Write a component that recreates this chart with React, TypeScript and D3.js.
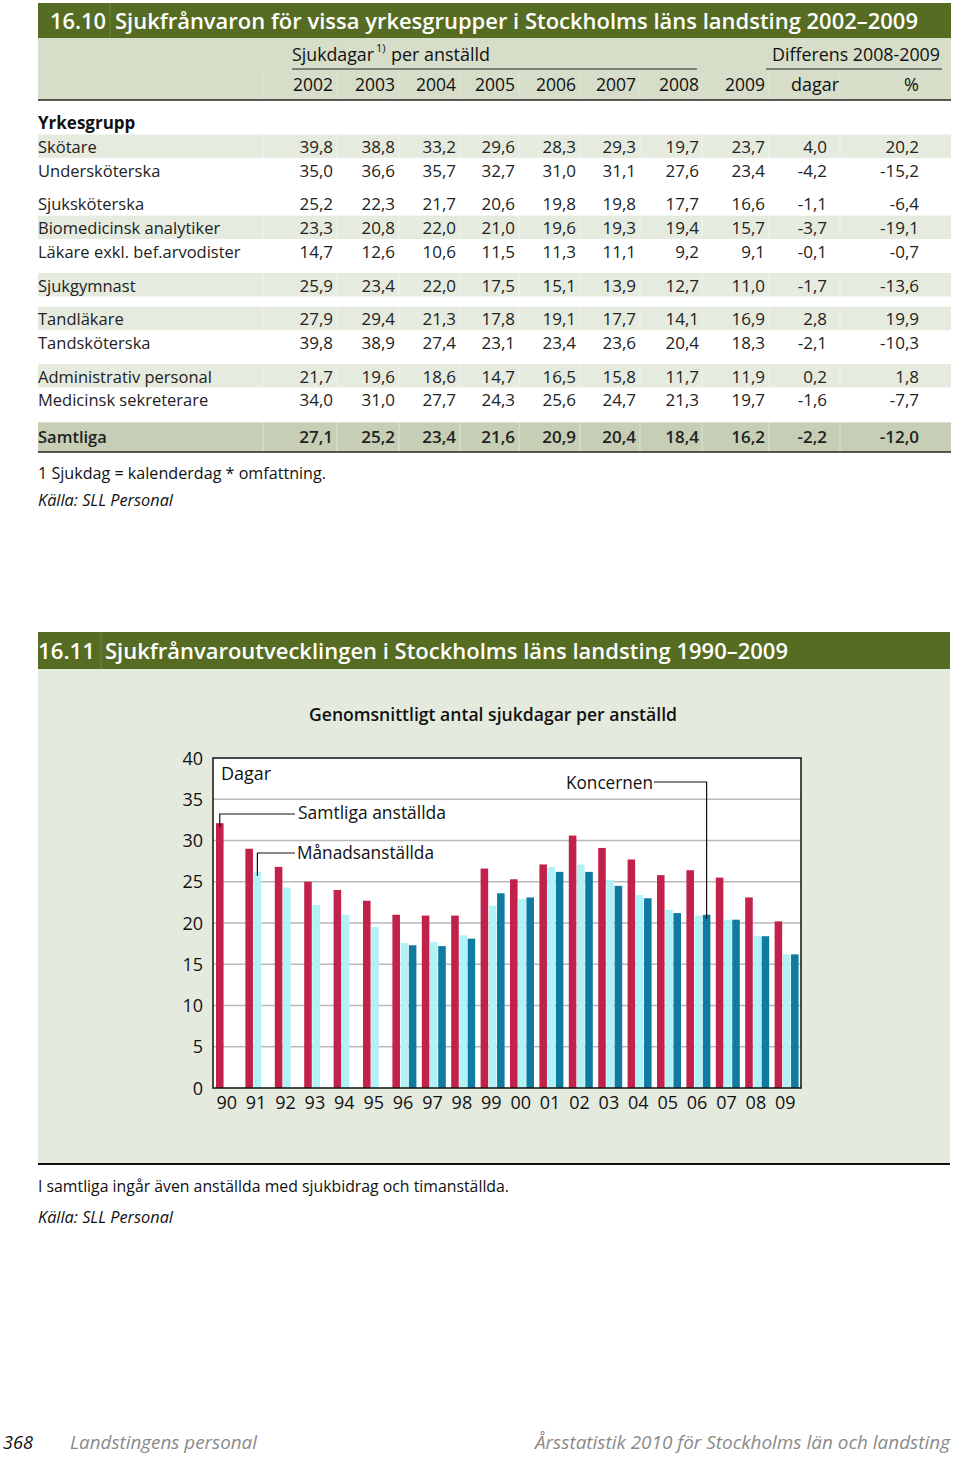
import React from 'react';
import * as d3 from 'd3';

// ---------- Table 16.10 data ----------
const tableYears = ['2002', '2003', '2004', '2005', '2006', '2007', '2008', '2009'];
const diffHeaders = ['dagar', '%'];
const occupations = [
  'Skötare',
  'Undersköterska',
  'Sjuksköterska',
  'Biomedicinsk analytiker',
  'Läkare exkl. bef.arvodister',
  'Sjukgymnast',
  'Tandläkare',
  'Tandsköterska',
  'Administrativ personal',
  'Medicinsk sekreterare',
  'Samtliga',
];
const occupationGroup = [0, 0, 1, 1, 1, 2, 3, 3, 4, 4, 5];
const stripedRows = [0, 3, 5, 6, 8];
const tableValues = [
  [39.8, 38.8, 33.2, 29.6, 28.3, 29.3, 19.7, 23.7, 4.0, 20.2],
  [35.0, 36.6, 35.7, 32.7, 31.0, 31.1, 27.6, 23.4, -4.2, -15.2],
  [25.2, 22.3, 21.7, 20.6, 19.8, 19.8, 17.7, 16.6, -1.1, -6.4],
  [23.3, 20.8, 22.0, 21.0, 19.6, 19.3, 19.4, 15.7, -3.7, -19.1],
  [14.7, 12.6, 10.6, 11.5, 11.3, 11.1, 9.2, 9.1, -0.1, -0.7],
  [25.9, 23.4, 22.0, 17.5, 15.1, 13.9, 12.7, 11.0, -1.7, -13.6],
  [27.9, 29.4, 21.3, 17.8, 19.1, 17.7, 14.1, 16.9, 2.8, 19.9],
  [39.8, 38.9, 27.4, 23.1, 23.4, 23.6, 20.4, 18.3, -2.1, -10.3],
  [21.7, 19.6, 18.6, 14.7, 16.5, 15.8, 11.7, 11.9, 0.2, 1.8],
  [34.0, 31.0, 27.7, 24.3, 25.6, 24.7, 21.3, 19.7, -1.6, -7.7],
  [27.1, 25.2, 23.4, 21.6, 20.9, 20.4, 18.4, 16.2, -2.2, -12.0],
];

// ---------- Chart 16.11 data ----------
const chartYears = ['90', '91', '92', '93', '94', '95', '96', '97', '98', '99',
  '00', '01', '02', '03', '04', '05', '06', '07', '08', '09'];
const seriesKeys = ['samtliga', 'manads', 'koncernen'];
const samtligaAnstallda = [32.1, 29.0, 26.8, 25.0, 24.0, 22.7, 21.0, 20.9, 20.9, 26.6,
  25.3, 27.1, 30.6, 29.1, 27.7, 25.8, 26.4, 25.5, 23.1, 20.2];
const manadsanstallda = [null, 26.2, 24.3, 22.2, 21.0, 19.5, 17.6, 17.7, 18.5, 22.1,
  22.9, 26.8, 27.1, 25.2, 23.4, 21.6, 20.9, 20.4, 18.4, 16.2];
const koncernen = [null, null, null, null, null, null, 17.3, 17.2, 18.1, 23.6,
  23.1, 26.2, 26.2, 24.5, 23.0, 21.2, 21.0, 20.4, 18.4, 16.2];
const yTicks = [0, 5, 10, 15, 20, 25, 30, 35, 40];

const FONT = '"Open Sans", "Noto Sans", sans-serif';
const C = {
  titleBar: '#566c22',
  header: '#d6ddc8',
  stripe: '#e6ebdf',
  total: '#c6ceb6',
  panel: '#e5eadf',
  red: '#c1214a',
  light: '#b0f2f5',
  dark: '#0f7ba0',
  grid: '#b9b9b9',
};

const fmt = d3
  .formatLocale({ decimal: ',', thousands: ' ', grouping: [3], currency: ['', ''], minus: '-' })
  .format('.1f');

export default function App() {
  // ---- table layout ----
  const colRight = [333, 395, 456, 515, 576, 636, 699, 765, 827, 919];
  const rowCenter = (i: number) =>
    147 + i * 23.7 + occupationGroup[i] * 10 + (i === occupations.length - 1 ? 2.7 : 0);
  const sepX = [263, 337, 399, 460, 519, 580, 640, 702, 769, 840];

  // ---- chart layout ----
  const plot = { left: 213, right: 801, top: 758, bottom: 1088 };
  const x0 = d3.scaleBand<string>().domain(chartYears).range([plot.left, plot.right]).padding(0);
  const x1 = d3.scaleBand<string>().domain(seriesKeys).range([3, 27]).paddingInner(0.08);
  const y = d3.scaleLinear().domain([0, 40]).range([plot.bottom, plot.top]);
  const seriesData: Record<string, (number | null)[]> = {
    samtliga: samtligaAnstallda,
    manads: manadsanstallda,
    koncernen: koncernen,
  };
  const seriesColor: Record<string, string> = { samtliga: C.red, manads: C.light, koncernen: C.dark };
  const barCx = (yr: string, k: string) => (x0(yr) as number) + (x1(k) as number) + x1.bandwidth() / 2;

  // leader lines
  const sX = barCx('90', 'samtliga');
  const sY = y(samtligaAnstallda[0] as number);
  const mX = barCx('91', 'manads');
  const mY = y(manadsanstallda[1] as number);
  const kX = barCx('06', 'koncernen');
  const kY = y(koncernen[16] as number);

  return (
    <svg
      width={960}
      height={1457}
      style={{ position: 'absolute', left: 0, top: 0, display: 'block', background: '#fff' }}
      fontFamily={FONT}
    >
      {/* ================= TABLE 16.10 ================= */}
      <rect x={38} y={3} width={913} height={35} fill={C.titleBar} />
      <line x1={110} x2={110} y1={3} y2={38} stroke="#6f8540" strokeWidth={1} />
      <text x={50} y={29} fill="#fff" fontSize={22} fontWeight={600} textLength={56} lengthAdjust="spacingAndGlyphs">16.10</text>
      <text x={115} y={29} fill="#fff" fontSize={22} fontWeight={600} textLength={803} lengthAdjust="spacingAndGlyphs">
        Sjukfrånvaron för vissa yrkesgrupper i Stockholms läns landsting 2002–2009
      </text>

      <rect x={38} y={38} width={913} height={62} fill={C.header} />
      {sepX.map((sx, i) => (
        <line key={'hs' + i} x1={sx} x2={sx} y1={72} y2={99} stroke="#e0e6d7" strokeWidth={1} />
      ))}
      <text x={292} y={61} fontSize={18} fill="#111" textLength={82} lengthAdjust="spacingAndGlyphs">Sjukdagar</text>
      <text x={376} y={52} fontSize={11} fill="#111">1)</text>
      <text x={391} y={61} fontSize={18} fill="#111" textLength={99} lengthAdjust="spacingAndGlyphs">per anställd</text>
      <text x={772} y={61} fontSize={18} fill="#111" textLength={168} lengthAdjust="spacingAndGlyphs">Differens 2008-2009</text>
      <line x1={292} x2={697} y1={69} y2={69} stroke="#222" strokeWidth={1} />
      <line x1={766} x2={942} y1={69} y2={69} stroke="#222" strokeWidth={1} />
      {tableYears.map((t, i) => (
        <text key={t} x={colRight[i]} y={91} fontSize={18} textAnchor="end" fill="#111" textLength={40} lengthAdjust="spacingAndGlyphs">
          {t}
        </text>
      ))}
      <text x={791} y={91} fontSize={18} fill="#111" textLength={48} lengthAdjust="spacingAndGlyphs">{diffHeaders[0]}</text>
      <text x={919} y={91} fontSize={18} fill="#111" textAnchor="end">{diffHeaders[1]}</text>
      <line x1={38} x2={951} y1={100} y2={100} stroke="#222" strokeWidth={1.5} />

      <text x={38} y={129} fontSize={17} fontWeight={700} fill="#111">Yrkesgrupp</text>

      {occupations.map((o, i) => {
        const cy = rowCenter(i);
        const isTotal = i === occupations.length - 1;
        const striped = stripedRows.includes(i);
        return (
          <g key={o}>
            {(striped || isTotal) && (
              <rect
                x={38}
                y={isTotal ? cy - 14.4 : cy - 12.5}
                width={913}
                height={isTotal ? 29.4 : 23.4}
                fill={isTotal ? C.total : C.stripe}
              />
            )}
            {(striped || isTotal) &&
              sepX.map((sx, j) => (
                <line
                  key={'s' + j}
                  x1={sx}
                  x2={sx}
                  y1={isTotal ? cy - 14.4 : cy - 12.5}
                  y2={isTotal ? cy + 15 : cy + 10.9}
                  stroke="#fff"
                  strokeOpacity={0.45}
                  strokeWidth={1}
                />
              ))}
            <text x={38} y={cy + 6} fontSize={16.5} fill="#222" fontWeight={isTotal ? 600 : 400}>
              {o}
            </text>
            {tableValues[i].map((v, j) => (
              <text
                key={j}
                x={colRight[j]}
                y={cy + 6}
                fontSize={17}
                textAnchor="end"
                fill="#222"
                fontWeight={isTotal ? 600 : 400}
              >
                {fmt(v)}
              </text>
            ))}
          </g>
        );
      })}
      <line x1={38} x2={951} y1={452} y2={452} stroke="#222" strokeWidth={1.5} />

      <text x={38} y={479} fontSize={15.5} fill="#111" textLength={288} lengthAdjust="spacingAndGlyphs">1 Sjukdag = kalenderdag * omfattning.</text>
      <text x={38} y={506} fontSize={15.5} fill="#111" fontStyle="italic" textLength={135} lengthAdjust="spacingAndGlyphs">Källa: SLL Personal</text>

      {/* ================= CHART 16.11 ================= */}
      <rect x={38} y={632} width={912} height={37} fill={C.titleBar} />
      <line x1={101} x2={101} y1={632} y2={669} stroke="#6f8540" strokeWidth={1} />
      <text x={38} y={659} fill="#fff" fontSize={22} fontWeight={600} textLength={57} lengthAdjust="spacingAndGlyphs">16.11</text>
      <text x={105} y={659} fill="#fff" fontSize={22} fontWeight={600} textLength={683} lengthAdjust="spacingAndGlyphs">
        Sjukfrånvaroutvecklingen i Stockholms läns landsting 1990–2009
      </text>
      <rect x={38} y={669} width={912} height={494} fill={C.panel} />
      <line x1={38} x2={950} y1={1164} y2={1164} stroke="#111" strokeWidth={2} />

      <text x={309} y={721} fontSize={18} fontWeight={600} fill="#111" textLength={368} lengthAdjust="spacingAndGlyphs">
        Genomsnittligt antal sjukdagar per anställd
      </text>

      {/* plot area */}
      <rect x={plot.left} y={plot.top} width={plot.right - plot.left} height={plot.bottom - plot.top} fill="#fff" />
      {yTicks
        .filter((t) => t > 0 && t < 40)
        .map((t) => (
          <line key={'g' + t} x1={plot.left} x2={plot.right} y1={y(t)} y2={y(t)} stroke={C.grid} strokeWidth={1.3} />
        ))}

      {chartYears.map((yr, i) => (
        <g key={yr}>
          {seriesKeys.map((k) => {
            const v = seriesData[k][i];
            if (v == null) return null;
            return (
              <rect
                key={k}
                x={(x0(yr) as number) + (x1(k) as number)}
                y={y(v)}
                width={x1.bandwidth()}
                height={y(0) - y(v)}
                fill={seriesColor[k]}
              />
            );
          })}
        </g>
      ))}

      <rect
        x={plot.left}
        y={plot.top}
        width={plot.right - plot.left}
        height={plot.bottom - plot.top}
        fill="none"
        stroke="#111"
        strokeWidth={1.5}
      />

      {yTicks.map((t) => (
        <text key={'yt' + t} x={203} y={y(t) + 6.5} fontSize={18} textAnchor="end" fill="#111">
          {t}
        </text>
      ))}
      {chartYears.map((yr) => (
        <text
          key={'xl' + yr}
          x={(x0(yr) as number) + x0.bandwidth() / 2 - 1}
          y={1109}
          fontSize={18}
          textAnchor="middle"
          fill="#111"
        >
          {yr}
        </text>
      ))}

      <text x={221} y={780} fontSize={18} fill="#111">Dagar</text>

      {/* leader lines and labels */}
      <polyline points={`${sX},${sY + 4} ${sX},${814} ${295},${814}`} fill="none" stroke="#111" strokeWidth={1.2} />
      <text x={298} y={819} fontSize={18} fill="#111" textLength={148} lengthAdjust="spacingAndGlyphs">Samtliga anställda</text>
      <polyline points={`${mX},${mY + 4} ${mX},${853} ${295},${853}`} fill="none" stroke="#111" strokeWidth={1.2} />
      <text x={297} y={859} fontSize={18} fill="#111" textLength={137} lengthAdjust="spacingAndGlyphs">Månadsanställda</text>
      <polyline points={`${654},${782} ${kX},${782} ${kX},${kY + 4}`} fill="none" stroke="#111" strokeWidth={1.2} />
      <text x={566} y={789} fontSize={18} fill="#111" textLength={87} lengthAdjust="spacingAndGlyphs">Koncernen</text>

      <text x={38} y={1192} fontSize={15.5} fill="#111" textLength={471} lengthAdjust="spacingAndGlyphs">I samtliga ingår även anställda med sjukbidrag och timanställda.</text>
      <text x={38} y={1223} fontSize={15.5} fill="#111" fontStyle="italic" textLength={135} lengthAdjust="spacingAndGlyphs">Källa: SLL Personal</text>

      {/* ================= PAGE FOOTER ================= */}
      <text x={3} y={1449} fontSize={18} fill="#111" fontStyle="italic" textLength={30} lengthAdjust="spacingAndGlyphs">368</text>
      <text x={70} y={1449} fontSize={18} fill="#8a8a8a" fontStyle="italic" textLength={187} lengthAdjust="spacingAndGlyphs">Landstingens personal</text>
      <text x={950} y={1449} fontSize={18} fill="#8a8a8a" fontStyle="italic" textAnchor="end" textLength={415} lengthAdjust="spacingAndGlyphs">
        Årsstatistik 2010 för Stockholms län och landsting
      </text>
    </svg>
  );
}
